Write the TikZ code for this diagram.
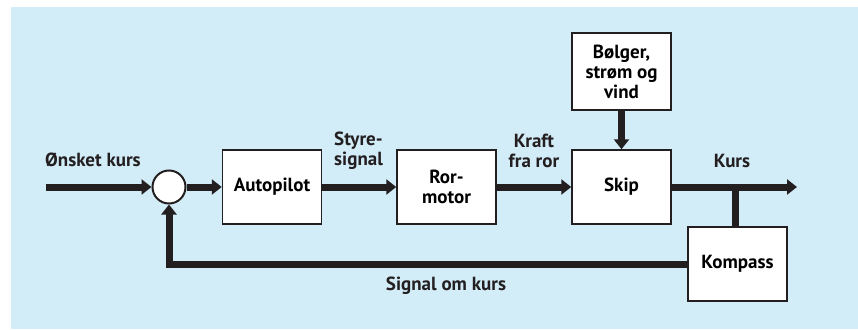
\documentclass[tikz,border=0pt]{standalone}
\usepackage{fontspec}
\setmainfont{PT Sans}
\usepackage{tikz}
\usetikzlibrary{arrows.meta}
\usetikzlibrary{positioning}

\definecolor{bgblue}{RGB}{210,236,248}
\definecolor{ink}{RGB}{35,31,32}

\tikzset{
  blokk/.style={draw=ink, line width=1.5pt, fill=white, minimum width=99pt, minimum height=74pt, align=center, font=\bfseries\fontsize{19}{20}\selectfont, inner sep=0pt},
  sumpunkt/.style={draw=ink, line width=2pt, fill=white, circle, minimum size=33pt, inner sep=0pt},
  signal/.style={draw=ink, line width=7pt, -{Triangle[length=10pt,width=15pt]}},
  linje/.style={draw=ink, line width=7pt},
  etikett/.style={align=center, font=\bfseries\fontsize{19}{20}\selectfont, text=ink, inner sep=0pt}
}

\begin{document}
\begin{tikzpicture}[x=1pt,y=1pt,yscale=-1]
\useasboundingbox (0,0) rectangle (858,329);
%background
\fill [bgblue] (11,7) rectangle (858,329);

%Blocks
\node [sumpunkt] (sum) at (169,187) {};
\node [blokk] (autopilot) at (272,187) {Autopilot};
\node [blokk] (rormotor) at (446.5,187) {Ror-\\motor};
\node [blokk] (skip) at (621.5,187) {Skip};
\node [blokk, minimum height=77pt] (bolger) at (621.5,71.5) {Bølger,\\strøm og\\vind};
\node [blokk] (kompass) at (737.5,264) {Kompass};

%free ends
\coordinate (inn) at (46,187);
\coordinate (ut) at (797,187);
\coordinate (tapp) at (735,187);

%Connectors
\draw [signal] (inn) -- (sum.west);
\draw [signal] (sum.east) -- (autopilot.west);
\draw [signal] (autopilot.east) -- (rormotor.west);
\draw [signal] (rormotor.east) -- (skip.west);
\draw [signal] (bolger.south) -- (skip.north);
\draw [signal] (skip.east) -- (ut);
\draw [linje] (tapp) -- (tapp |- kompass.north);
\draw [signal] (kompass.west) -| (sum.south);

% Text Node
\node [etikett] (onsket) at (93,160) {Ønsket kurs};
% Text Node
\node [etikett, anchor=west, align=left] (styre) at (334,151) {Styre-\\signal};
% Text Node
\node [etikett] (kraft) at (534,151) {Kraft\\fra ror};
% Text Node
\node [etikett] (kurs) at (732,161) {Kurs};
% Text Node
\node [etikett] (omkurs) at (446,286) {Signal om kurs};

\end{tikzpicture}
\end{document}
